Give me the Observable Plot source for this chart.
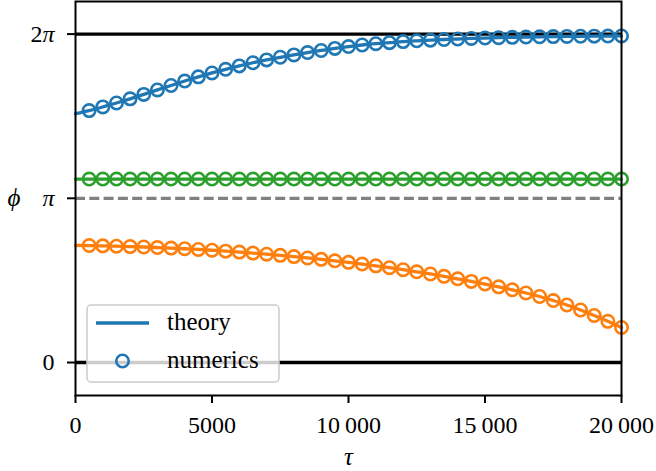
<!DOCTYPE html>
<html>
<head>
<meta charset="utf-8">
<script src="https://cdn.jsdelivr.net/npm/d3@7"></script>
<script src="https://cdn.jsdelivr.net/npm/@observablehq/plot@0.6"></script>
<style>
  html, body { margin: 0; padding: 0; background: white; }
</style>
</head>
<body>
<div id="chart"></div>
<script>
// ---- data ----
const tau = [0, 500, 1000, 1500, 2000, 2500, 3000, 3500, 4000, 4500, 5000,
  5500, 6000, 6500, 7000, 7500, 8000, 8500, 9000, 9500, 10000,
  10500, 11000, 11500, 12000, 12500, 13000, 13500, 14000, 14500, 15000,
  15500, 16000, 16500, 17000, 17500, 18000, 18500, 19000, 19500, 20000];

const phiTop = [4.76, 4.82, 4.89, 4.965, 5.045, 5.13, 5.215, 5.30, 5.385, 5.465, 5.54,
  5.61, 5.675, 5.735, 5.79, 5.84, 5.885, 5.93, 5.97, 6.01, 6.045,
  6.075, 6.10, 6.12, 6.14, 6.155, 6.168, 6.18, 6.19, 6.20, 6.208,
  6.215, 6.221, 6.227, 6.232, 6.236, 6.239, 6.242, 6.244, 6.246, 6.248];

const phiMiddle = [3.51, 3.51, 3.51, 3.51, 3.51, 3.51, 3.51, 3.51, 3.51, 3.51, 3.51,
  3.51, 3.51, 3.51, 3.51, 3.51, 3.51, 3.51, 3.51, 3.51, 3.51,
  3.51, 3.51, 3.51, 3.51, 3.51, 3.51, 3.51, 3.51, 3.51, 3.51,
  3.51, 3.51, 3.51, 3.51, 3.51, 3.51, 3.51, 3.51, 3.51, 3.51];

const phiBottom = [2.24, 2.238, 2.232, 2.225, 2.218, 2.21, 2.20, 2.189, 2.177, 2.163, 2.148,
  2.131, 2.113, 2.093, 2.072, 2.05, 2.026, 2.001, 1.974, 1.946, 1.916,
  1.884, 1.85, 1.814, 1.776, 1.736, 1.694, 1.649, 1.602, 1.552, 1.502,
  1.448, 1.391, 1.330, 1.263, 1.186, 1.100, 1.005, 0.900, 0.788, 0.670];

const seriesNames = ["run A", "run B", "run C"];
const seriesColors = ["#1f77b4", "#2ca02c", "#ff7f0e"];

const xTickValues = [0, 5000, 10000, 15000, 20000];
const xTickLabels = ["0", "5000", "10\u2009000", "15\u2009000", "20\u2009000"];
const yTickValues = [0, Math.PI, 2 * Math.PI];
const yTickLabels = ["0", "π", "2π"];
const solidRefLines = [0, 2 * Math.PI];
const dashedRefLines = [Math.PI];
const legendLabels = ["theory", "numerics"];

// ---- build tables ----
const seriesValues = [phiTop, phiMiddle, phiBottom];
const theory = [];
const numerics = [];
seriesNames.forEach((name, s) => {
  tau.forEach((t, i) => {
    const row = {series: name, tau: t, phi: seriesValues[s][i]};
    theory.push(row);
    if (i > 0) numerics.push(row);
  });
});

const serif = "'Liberation Serif', 'DejaVu Serif', 'Times New Roman', serif";

const plot = Plot.plot({
  width: 656,
  height: 471,
  marginLeft: 75,
  marginRight: 35,
  marginTop: 1,
  marginBottom: 76,
  style: {fontFamily: serif, fontSize: "24px", background: "white", overflow: "visible"},
  x: {domain: [0, 20000]},
  y: {domain: [-0.631, 6.907]},
  color: {type: "ordinal", domain: seriesNames, range: seriesColors},
  marks: [
    Plot.ruleY(dashedRefLines, {stroke: "#808080", strokeWidth: 3.3, strokeDasharray: "10,4.3"}),
    Plot.ruleY(solidRefLines, {stroke: "black", strokeWidth: 3.3}),
    Plot.line(theory, {x: "tau", y: "phi", z: "series", stroke: "series", strokeWidth: 3.3, curve: "catmull-rom"}),
    Plot.dot(numerics, {x: "tau", y: "phi", stroke: "series", r: 6.2, strokeWidth: 2.6, fill: "none"}),
    Plot.frame({stroke: "black", strokeWidth: 2}),
    Plot.axisX(xTickValues, {
      tickSize: 8, tickPadding: 12, strokeWidth: 2, label: null, fontSize: 24,
      tickFormat: (d) => xTickLabels[xTickValues.indexOf(d)]
    }),
    Plot.axisY(yTickValues, {
      tickSize: 8, tickPadding: 13, strokeWidth: 2, label: null, fontSize: 24,
      tickFormat: (d) => yTickLabels[yTickValues.indexOf(d)]
    }),
    Plot.text(["τ"], {frameAnchor: "bottom", lineAnchor: "middle", text: (d) => d, dy: 61, fontStyle: "italic", fontSize: 25}),
    Plot.text([Math.PI], {y: (d) => d, frameAnchor: "left", lineAnchor: "middle", text: () => "\u03D5", dx: -68, fontStyle: "italic", fontSize: 25})
  ]
});

// italic π in tick labels (mathtext style)
plot.querySelectorAll("text").forEach((t) => {
  const s = t.textContent;
  if (s.includes("π") && t.children.length === 0) {
    t.textContent = "";
    for (const ch of s) {
      const ts = document.createElementNS("http://www.w3.org/2000/svg", "tspan");
      ts.textContent = ch;
      if (ch === "π") ts.setAttribute("font-style", "italic");
      t.appendChild(ts);
    }
  }
});

// legend (chart chrome)
const svg = d3.select(plot);
const lg = svg.append("g").attr("font-family", serif).attr("font-size", 25).attr("text-anchor", "start");
lg.append("rect")
  .attr("x", 87).attr("y", 305).attr("width", 192).attr("height", 77).attr("rx", 4)
  .attr("fill", "white").attr("fill-opacity", 0.8)
  .attr("stroke", "#cccccc").attr("stroke-width", 1.5);
lg.append("line")
  .attr("x1", 96).attr("x2", 149).attr("y1", 323).attr("y2", 323)
  .attr("stroke", seriesColors[0]).attr("stroke-width", 3.3);
lg.append("circle")
  .attr("cx", 122.5).attr("cy", 361).attr("r", 6.2)
  .attr("fill", "none").attr("stroke", seriesColors[0]).attr("stroke-width", 2.6);
lg.append("text").attr("x", 167).attr("y", 330).text(legendLabels[0]);
lg.append("text").attr("x", 167).attr("y", 368).text(legendLabels[1]);

document.getElementById("chart").appendChild(plot);
</script>
</body>
</html>
